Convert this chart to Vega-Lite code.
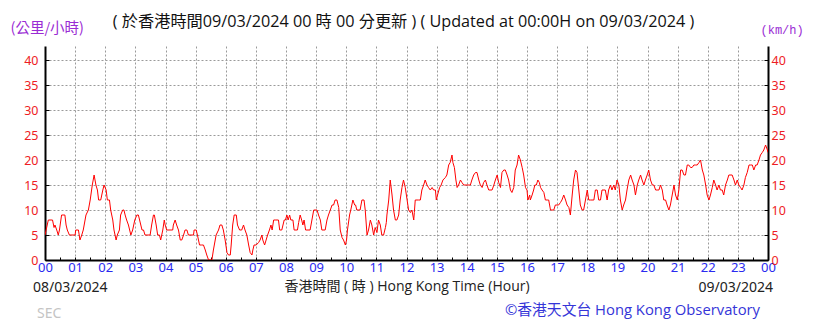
{
"$schema": "https://vega.github.io/schema/vega-lite/v6.json",
"width": 723,
"height": 214,
"autosize": {"type": "none"},
"padding": {"left": 45, "top": 46, "right": 51, "bottom": 63},
"background": "white",
"title": {"text": "( 於香港時間09/03/2024 00 時 00 分更新 ) ( Updated at 00:00H on 09/03/2024 )", "font": "Open Sans, Noto Sans CJK TC", "fontSize": 16.2, "fontWeight": "normal", "color": "#111111", "anchor": "middle", "frame": "group", "baseline": "middle", "offset": -18.5, "dx": -3},
"config": {"view": {"stroke": null}, "axisX": {"labelOverlap": false, "labelBound": false}},
"data": {"values": [
{"h":0,"v":5},{"h":0.11,"v":8},{"h":0.25,"v":8},{"h":0.3,"v":6.5},{"h":0.33,"v":7},{"h":0.39,"v":6},{"h":0.44,"v":5},{"h":0.48,"v":6},{"h":0.55,"v":9},{"h":0.66,"v":9},{"h":0.7,"v":7},{"h":0.74,"v":6},{"h":0.81,"v":5},{"h":1.0,"v":5},{"h":1.02,"v":6},{"h":1.11,"v":6},{"h":1.16,"v":4},{"h":1.22,"v":5},{"h":1.27,"v":6},{"h":1.36,"v":9},{"h":1.44,"v":10},{"h":1.5,"v":12},{"h":1.57,"v":15},{"h":1.63,"v":17},{"h":1.69,"v":15},{"h":1.74,"v":14},{"h":1.78,"v":12},{"h":1.85,"v":12},{"h":1.92,"v":14},{"h":1.96,"v":15},{"h":2.03,"v":14},{"h":2.07,"v":12},{"h":2.14,"v":12},{"h":2.18,"v":10},{"h":2.25,"v":8},{"h":2.29,"v":6},{"h":2.36,"v":4},{"h":2.4,"v":5},{"h":2.47,"v":6},{"h":2.51,"v":9},{"h":2.58,"v":10},{"h":2.62,"v":10},{"h":2.66,"v":9},{"h":2.71,"v":8},{"h":2.77,"v":7},{"h":2.85,"v":5},{"h":2.91,"v":6},{"h":2.98,"v":8},{"h":3.05,"v":9},{"h":3.1,"v":9},{"h":3.18,"v":7},{"h":3.22,"v":6},{"h":3.27,"v":6},{"h":3.32,"v":5},{"h":3.49,"v":5},{"h":3.54,"v":7},{"h":3.6,"v":9},{"h":3.63,"v":9},{"h":3.69,"v":7},{"h":3.74,"v":5},{"h":3.8,"v":5},{"h":3.84,"v":4},{"h":3.91,"v":6},{"h":3.96,"v":8},{"h":3.99,"v":7},{"h":4.04,"v":6},{"h":4.24,"v":6},{"h":4.26,"v":7},{"h":4.32,"v":8},{"h":4.37,"v":7},{"h":4.43,"v":6},{"h":4.49,"v":4},{"h":4.54,"v":4},{"h":4.6,"v":5},{"h":4.65,"v":6},{"h":4.71,"v":6},{"h":4.76,"v":5},{"h":4.93,"v":5},{"h":4.95,"v":6},{"h":5.02,"v":6},{"h":5.06,"v":5},{"h":5.13,"v":3},{"h":5.2,"v":3},{"h":5.26,"v":3},{"h":5.32,"v":2},{"h":5.37,"v":1},{"h":5.43,"v":0},{"h":5.54,"v":0},
{"h":5.59,"v":2},{"h":5.68,"v":5},{"h":5.76,"v":6},{"h":5.81,"v":7},{"h":5.87,"v":7},{"h":5.92,"v":6},{"h":5.98,"v":4},{"h":6.04,"v":1.5},{"h":6.09,"v":1},{"h":6.15,"v":1},{"h":6.18,"v":3},{"h":6.23,"v":7},{"h":6.28,"v":9},{"h":6.35,"v":9},{"h":6.39,"v":7},{"h":6.46,"v":6},{"h":6.53,"v":6},{"h":6.59,"v":7},{"h":6.64,"v":6},{"h":6.7,"v":5},{"h":6.76,"v":3},{"h":6.81,"v":1.5},{"h":6.87,"v":1},{"h":6.9,"v":2},{"h":6.94,"v":3},{"h":7.01,"v":3},{"h":7.09,"v":3.5},{"h":7.14,"v":4},{"h":7.2,"v":5},{"h":7.23,"v":4},{"h":7.29,"v":3},{"h":7.34,"v":4},{"h":7.39,"v":5},{"h":7.45,"v":6},{"h":7.5,"v":7},{"h":7.54,"v":6},{"h":7.59,"v":8},{"h":7.64,"v":8},{"h":7.75,"v":8},{"h":7.79,"v":6},{"h":7.86,"v":6},{"h":7.9,"v":7},{"h":7.94,"v":8},{"h":7.98,"v":8},{"h":8.03,"v":9},{"h":8.07,"v":8},{"h":8.12,"v":9},{"h":8.16,"v":8},{"h":8.23,"v":8},{"h":8.27,"v":6},{"h":8.38,"v":6},{"h":8.42,"v":7.5},{"h":8.47,"v":9},{"h":8.52,"v":8},{"h":8.56,"v":7},{"h":8.6,"v":8},{"h":8.65,"v":6},{"h":8.8,"v":6},{"h":8.86,"v":8},{"h":8.92,"v":10},{"h":9.03,"v":10},{"h":9.08,"v":9},{"h":9.14,"v":8},{"h":9.19,"v":6},{"h":9.3,"v":6},{"h":9.36,"v":8},{"h":9.41,"v":9},{"h":9.47,"v":10},{"h":9.53,"v":11},{"h":9.58,"v":11},{"h":9.63,"v":12},{"h":9.69,"v":12},{"h":9.75,"v":10.5},{"h":9.8,"v":6},{"h":9.86,"v":4.5},{"h":9.91,"v":4},{"h":9.97,"v":3},{"h":10.01,"v":4},{"h":10.04,"v":6},{"h":10.11,"v":9},{"h":10.15,"v":10},{"h":10.22,"v":12},{"h":10.28,"v":11},{"h":10.31,"v":11},{"h":10.35,"v":10},{"h":10.41,"v":10},{"h":10.46,"v":10},{"h":10.52,"v":12},{"h":10.59,"v":12},{"h":10.63,"v":10},{"h":10.69,"v":5},{"h":10.74,"v":6},{"h":10.8,"v":8},{"h":10.85,"v":7},{"h":10.91,"v":5},{"h":10.96,"v":6.5},{"h":11.02,"v":5.5},{"h":11.07,"v":8},{"h":11.13,"v":7},{"h":11.18,"v":5},{"h":11.24,"v":5},{"h":11.3,"v":6.5},{"h":11.33,"v":7.5},{"h":11.35,"v":9},{"h":11.41,"v":12},
{"h":11.46,"v":16},{"h":11.52,"v":13},{"h":11.57,"v":10},{"h":11.63,"v":8},{"h":11.68,"v":8},{"h":11.74,"v":9},{"h":11.79,"v":12},{"h":11.85,"v":14.5},{"h":11.9,"v":16},{"h":11.96,"v":14.5},{"h":12.02,"v":12},{"h":12.07,"v":10},{"h":12.13,"v":9.5},{"h":12.18,"v":10},{"h":12.24,"v":8},{"h":12.26,"v":9.5},{"h":12.29,"v":12},{"h":12.35,"v":12},{"h":12.4,"v":12},{"h":12.46,"v":12},{"h":12.51,"v":14},{"h":12.57,"v":15},{"h":12.62,"v":16},{"h":12.68,"v":15},{"h":12.73,"v":14.5},{"h":12.79,"v":14},{"h":12.85,"v":14.5},{"h":12.9,"v":14},{"h":12.96,"v":14},{"h":12.99,"v":12},{"h":13.03,"v":13},{"h":13.1,"v":14.5},{"h":13.15,"v":15},{"h":13.21,"v":16},{"h":13.29,"v":16.5},{"h":13.34,"v":17},{"h":13.4,"v":19},{"h":13.45,"v":19.5},{"h":13.51,"v":21},{"h":13.54,"v":19.5},{"h":13.59,"v":18.5},{"h":13.64,"v":16},{"h":13.68,"v":14.5},{"h":13.73,"v":15},{"h":13.79,"v":16},{"h":13.84,"v":15.5},{"h":13.9,"v":15},{"h":14.01,"v":15},{"h":14.12,"v":15},{"h":14.17,"v":16},{"h":14.23,"v":17},{"h":14.29,"v":17.5},{"h":14.34,"v":17.5},{"h":14.4,"v":16},{"h":14.45,"v":15},{"h":14.51,"v":14.5},{"h":14.56,"v":15.5},{"h":14.62,"v":16},{"h":14.67,"v":15},{"h":14.73,"v":14},{"h":14.84,"v":14},{"h":14.9,"v":15},{"h":14.95,"v":16},{"h":15.01,"v":17},{"h":15.06,"v":15.5},{"h":15.12,"v":14.5},{"h":15.17,"v":17.5},{"h":15.23,"v":18},{"h":15.28,"v":18},{"h":15.34,"v":17},{"h":15.39,"v":16},{"h":15.45,"v":14},{"h":15.5,"v":13.5},{"h":15.56,"v":14.5},{"h":15.61,"v":18},{"h":15.67,"v":19},{"h":15.72,"v":21},{"h":15.78,"v":20},{"h":15.84,"v":18.5},{"h":15.89,"v":17},{"h":15.95,"v":14.5},{"h":16.0,"v":14},{"h":16.03,"v":12},{"h":16.09,"v":13},{"h":16.11,"v":12},{"h":16.17,"v":13},{"h":16.22,"v":14},{"h":16.26,"v":15},{"h":16.31,"v":15},{"h":16.36,"v":16},{"h":16.41,"v":15.5},{"h":16.45,"v":14.5},{"h":16.5,"v":14},{"h":16.56,"v":13.5},{"h":16.61,"v":12},{"h":16.67,"v":12},{"h":16.72,"v":12},{"h":16.78,"v":10},{"h":16.89,"v":10},{"h":16.94,"v":11},{"h":17.05,"v":11},{"h":17.11,"v":11.5},{"h":17.16,"v":12},{"h":17.22,"v":13},{"h":17.28,"v":12},{"h":17.33,"v":11},{"h":17.39,"v":10.5},
{"h":17.44,"v":9},{"h":17.5,"v":13},{"h":17.55,"v":16},{"h":17.61,"v":18},{"h":17.66,"v":17.5},{"h":17.72,"v":14},{"h":17.77,"v":11},{"h":17.83,"v":10},{"h":17.88,"v":10},{"h":17.94,"v":12},{"h":18.0,"v":14},{"h":18.05,"v":12},{"h":18.11,"v":12},{"h":18.22,"v":12},{"h":18.27,"v":14},{"h":18.33,"v":14},{"h":18.38,"v":12},{"h":18.44,"v":12},{"h":18.49,"v":14},{"h":18.6,"v":14},{"h":18.66,"v":12},{"h":18.71,"v":14},{"h":18.77,"v":15},{"h":18.82,"v":14},{"h":18.88,"v":15},{"h":18.93,"v":14},{"h":18.99,"v":16},{"h":19.05,"v":15},{"h":19.1,"v":12},{"h":19.16,"v":10},{"h":19.21,"v":11},{"h":19.27,"v":12},{"h":19.32,"v":14},{"h":19.38,"v":16},{"h":19.44,"v":17},{"h":19.49,"v":16},{"h":19.55,"v":15},{"h":19.6,"v":13},{"h":19.66,"v":15},{"h":19.71,"v":16},{"h":19.77,"v":17},{"h":19.82,"v":16},{"h":19.88,"v":15},{"h":19.93,"v":16},{"h":19.99,"v":17},{"h":20.04,"v":18},{"h":20.1,"v":16},{"h":20.16,"v":15},{"h":20.21,"v":15},{"h":20.27,"v":14},{"h":20.32,"v":14},{"h":20.38,"v":14},{"h":20.43,"v":15},{"h":20.49,"v":14},{"h":20.54,"v":12},{"h":20.6,"v":12},{"h":20.65,"v":11},{"h":20.71,"v":10},{"h":20.76,"v":11},{"h":20.82,"v":13},{"h":20.88,"v":15},{"h":20.93,"v":13},{"h":20.99,"v":12},{"h":21.04,"v":14},{"h":21.1,"v":18},{"h":21.15,"v":18},{"h":21.21,"v":17},{"h":21.26,"v":17},{"h":21.32,"v":19},{"h":21.37,"v":19},{"h":21.43,"v":18.5},{"h":21.48,"v":18.5},{"h":21.54,"v":19},{"h":21.59,"v":19},{"h":21.65,"v":19},{"h":21.71,"v":19.5},{"h":21.76,"v":20},{"h":21.82,"v":18},{"h":21.87,"v":17},{"h":21.93,"v":15},{"h":21.98,"v":13},{"h":22.04,"v":12},{"h":22.09,"v":13},{"h":22.15,"v":14.5},{"h":22.2,"v":16},{"h":22.26,"v":15},{"h":22.31,"v":14},{"h":22.37,"v":15},{"h":22.42,"v":14},{"h":22.48,"v":14},{"h":22.53,"v":13},{"h":22.59,"v":15},{"h":22.65,"v":16},{"h":22.7,"v":17},{"h":22.81,"v":17},{"h":22.87,"v":16},{"h":22.92,"v":15},{"h":22.98,"v":16},{"h":23.03,"v":15},{"h":23.09,"v":14.5},{"h":23.14,"v":14},{"h":23.2,"v":15},{"h":23.25,"v":16.5},{"h":23.31,"v":17.5},{"h":23.37,"v":19},{"h":23.42,"v":19},{"h":23.48,"v":19},{"h":23.53,"v":18},{"h":23.59,"v":19},{"h":23.64,"v":19},{"h":23.7,"v":20},{"h":23.75,"v":21},{"h":23.81,"v":21.5},{"h":23.86,"v":22},{"h":23.92,"v":23},{"h":23.98,"v":22},{"h":24.0,"v":21.5}
]},
"layer": [
{
"mark": {"type": "line", "color": "#ff0000", "strokeWidth": 1, "clip": true},
"encoding": {
"x": {"field": "h", "type": "quantitative", "scale": {"domain": [0, 24], "nice": false, "zero": false},
"axis": {"orient": "bottom", "tickCount": 100, "values": [0,0.5,1,1.5,2,2.5,3,3.5,4,4.5,5,5.5,6,6.5,7,7.5,8,8.5,9,9.5,10,10.5,11,11.5,12,12.5,13,13.5,14,14.5,15,15.5,16,16.5,17,17.5,18,18.5,19,19.5,20,20.5,21,21.5,22,22.5,23,23.5,24],
"labelExpr": "datum.value % 1 != 0 ? '' : (datum.value == 24 ? '00' : (datum.value < 10 ? '0' + datum.value : '' + datum.value))",
"grid": true, "gridDash": [2, 2], "gridColor": "#9a9a9a", "gridWidth": 1,
"gridOpacity": {"condition": {"test": "datum.value % 1 != 0 || datum.value == 0 || datum.value == 24", "value": 0}, "value": 1},
"ticks": true, "tickSize": -3, "tickColor": "#000000", "tickWidth": 1,
"domain": true, "domainColor": "#000000", "domainWidth": 2,
"labelColor": "#2a2af0", "labelFont": "Noto Sans", "labelFontSize": 13, "labelPadding": 4.5, "labelFlush": false, "labelOverlap": false, "labelBound": false, "labelSeparation": 0,
"title": "香港時間 ( 時 ) Hong Kong Time (Hour)", "titleFont": "Open Sans, Noto Sans CJK TC", "titleFontSize": 14, "titleFontWeight": "normal", "titleColor": "#222222", "titlePadding": 5}},
"y": {"field": "v", "type": "quantitative", "scale": {"domain": [0, 42.8], "nice": false, "zero": true},
"axis": {"orient": "left", "tickCount": 20, "values": [0,5,10,15,20,25,30,35,40],
"grid": true, "gridDash": [2, 2], "gridColor": "#9a9a9a", "gridWidth": 1,
"gridOpacity": {"condition": {"test": "datum.value == 0", "value": 0}, "value": 1},
"ticks": true, "tickSize": -4, "tickColor": "#000000",
"domain": true, "domainColor": "#000000", "domainWidth": 2,
"labelColor": "#ee1c24", "labelFont": "Noto Sans", "labelFontSize": 12.5, "labelPadding": 11,
"title": "(公里/小時)", "titleAngle": 0, "titleX": -35, "titleY": -18, "titleAlign": "left", "titleBaseline": "middle",
"titleColor": "#9a2bd4", "titleFont": "Noto Sans CJK TC", "titleFontSize": 14.5, "titleFontWeight": "normal"}}
}
},
{
"mark": {"type": "line", "strokeOpacity": 0},
"encoding": {
"x": {"field": "h", "type": "quantitative"},
"y": {"field": "v", "type": "quantitative", "scale": {"domain": [0, 42.8], "nice": false, "zero": true},
"axis": {"orient": "right", "tickCount": 20, "values": [0,5,10,15,20,25,30,35,40], "grid": false,
"ticks": true, "tickSize": -4, "tickColor": "#000000",
"domain": true, "domainColor": "#000000", "domainWidth": 2,
"labelColor": "#ee1c24", "labelFont": "Noto Sans", "labelFontSize": 12.5, "labelPadding": 7,
"title": "(km/h)", "titleAngle": 0, "titleX": -8, "titleY": -17, "titleAlign": "left", "titleBaseline": "middle",
"titleColor": "#9a2bd4", "titleFont": "Liberation Mono", "titleFontSize": 12, "titleFontWeight": "normal"}}
}
},
{
"data": {"values": [{"h": 0, "t": "08/03/2024"}]},
"mark": {"type": "text", "align": "left", "baseline": "middle", "dx": -12, "font": "Noto Sans", "fontSize": 14, "color": "#222222"},
"encoding": {"x": {"field": "h", "type": "quantitative"}, "y": {"value": 242}, "text": {"field": "t"}}
},
{
"data": {"values": [{"h": 24, "t": "09/03/2024"}]},
"mark": {"type": "text", "align": "right", "baseline": "middle", "dx": 5, "font": "Noto Sans", "fontSize": 14, "color": "#222222"},
"encoding": {"x": {"field": "h", "type": "quantitative"}, "y": {"value": 242}, "text": {"field": "t"}}
},
{
"data": {"values": [{"h": 0, "t": "SEC"}]},
"mark": {"type": "text", "align": "left", "baseline": "middle", "dx": -8, "font": "Noto Sans", "fontSize": 14, "color": "#c4c4c4"},
"encoding": {"x": {"field": "h", "type": "quantitative"}, "y": {"value": 268}, "text": {"field": "t"}}
},
{
"data": {"values": [{"h": 24, "t": "©香港天文台 Hong Kong Observatory"}]},
"mark": {"type": "text", "align": "right", "baseline": "middle", "dx": -8, "font": "Open Sans, Noto Sans CJK TC", "fontSize": 14.8, "color": "#3535d8"},
"encoding": {"x": {"field": "h", "type": "quantitative"}, "y": {"value": 265}, "text": {"field": "t"}}
}
],
"resolve": {"scale": {"y": "independent"}}
}
